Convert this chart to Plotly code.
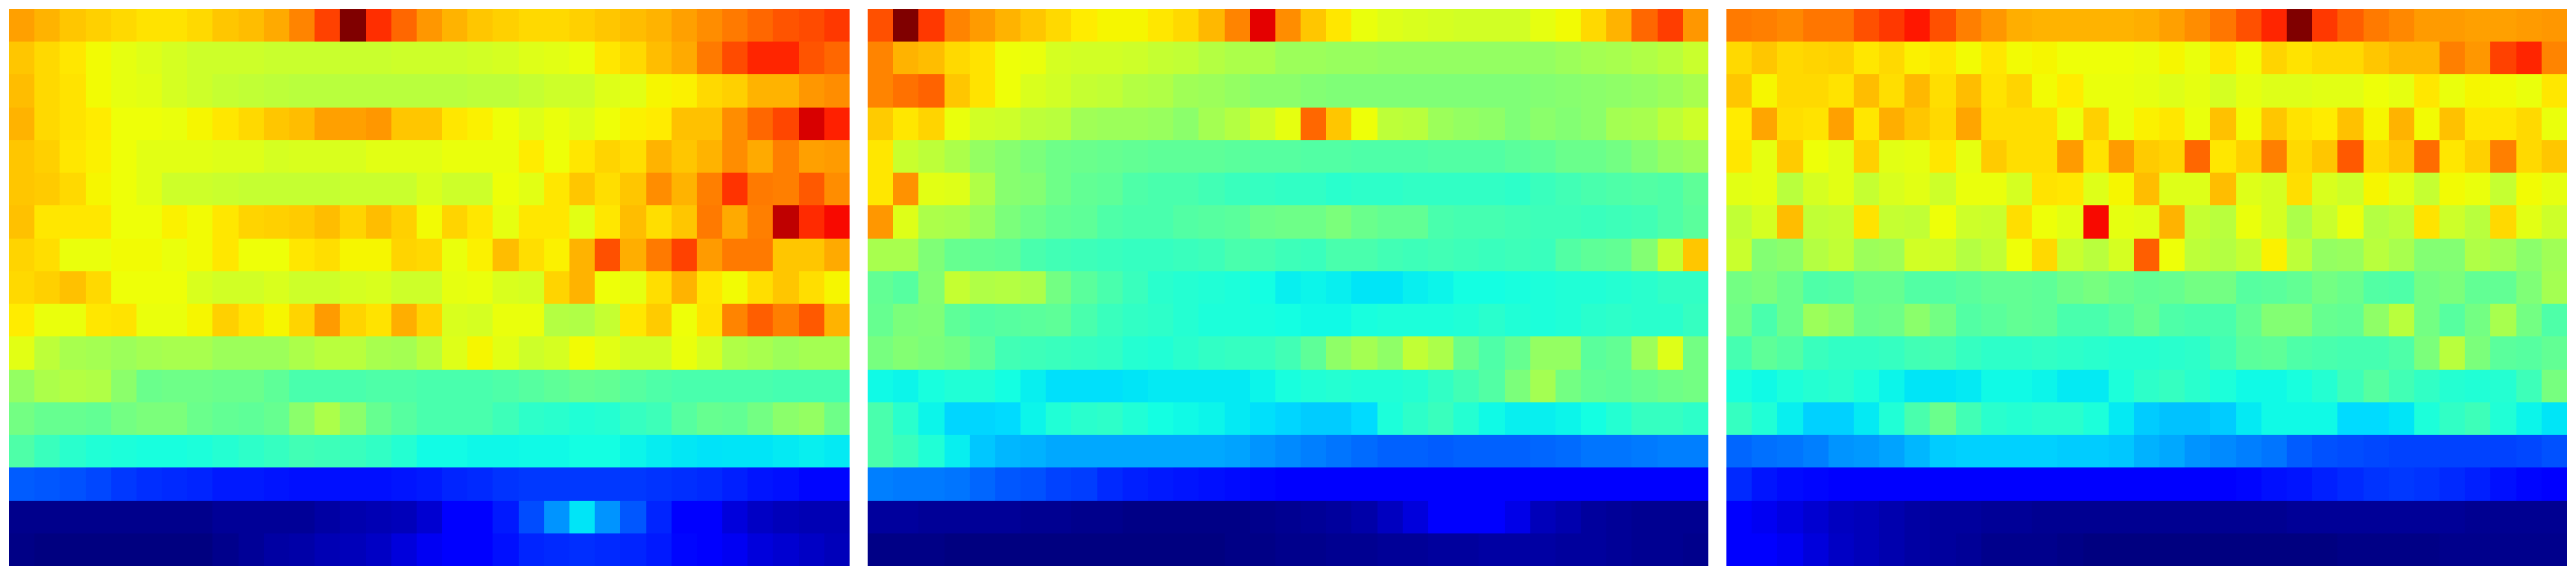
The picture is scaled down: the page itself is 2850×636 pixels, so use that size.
import plotly.graph_objects as go

# Colour values per row (33 columns, 17 rows)
panel_a = [
 [.74,.72,.70,.69,.68,.67,.67,.68,.70,.71,.73,.77,.84,1.0,.86,.80,.75,.72,.70,.69,.68,.68,.69,.70,.71,.72,.74,.76,.78,.80,.82,.83,.85],
 [.70,.68,.665,.645,.63,.62,.61,.60,.60,.60,.595,.595,.595,.595,.595,.60,.60,.60,.605,.61,.62,.625,.635,.665,.68,.71,.73,.78,.83,.87,.87,.82,.80],
 [.71,.68,.67,.645,.63,.625,.61,.60,.59,.585,.58,.575,.575,.575,.575,.575,.575,.575,.58,.58,.59,.60,.60,.62,.625,.65,.655,.68,.69,.72,.72,.75,.76],
 [.72,.68,.67,.66,.64,.64,.635,.65,.665,.68,.70,.71,.74,.74,.75,.70,.70,.665,.655,.64,.62,.635,.62,.64,.655,.66,.705,.705,.76,.80,.835,.93,.875],
 [.70,.69,.665,.655,.64,.625,.625,.625,.62,.62,.61,.615,.615,.615,.625,.625,.625,.635,.635,.635,.66,.64,.665,.685,.675,.72,.70,.72,.76,.73,.775,.74,.745],
 [.70,.695,.68,.65,.64,.625,.60,.60,.595,.59,.59,.59,.59,.595,.595,.595,.615,.60,.60,.64,.625,.665,.70,.675,.70,.76,.72,.775,.855,.78,.775,.815,.76],
 [.705,.665,.665,.665,.64,.64,.655,.645,.665,.685,.69,.695,.71,.685,.71,.69,.645,.685,.665,.63,.665,.665,.625,.665,.71,.675,.70,.78,.73,.775,.95,.865,.90],
 [.685,.675,.635,.635,.645,.645,.635,.645,.665,.64,.64,.665,.675,.65,.65,.685,.68,.635,.655,.71,.675,.655,.72,.825,.725,.78,.84,.745,.78,.78,.70,.70,.73],
 [.68,.69,.705,.68,.64,.64,.64,.615,.605,.605,.615,.60,.60,.61,.615,.60,.60,.63,.635,.615,.61,.685,.72,.64,.63,.675,.72,.665,.645,.675,.70,.675,.65],
 [.66,.635,.635,.665,.67,.635,.635,.65,.69,.67,.65,.685,.745,.685,.67,.725,.685,.615,.61,.635,.635,.57,.565,.59,.665,.695,.64,.67,.77,.81,.775,.815,.72],
 [.625,.58,.555,.55,.54,.55,.555,.555,.54,.54,.54,.56,.575,.575,.555,.55,.575,.62,.65,.625,.60,.61,.645,.625,.605,.605,.635,.61,.565,.555,.54,.55,.55],
 [.53,.56,.57,.565,.52,.48,.485,.485,.48,.48,.465,.44,.44,.44,.445,.445,.44,.44,.44,.445,.455,.465,.475,.47,.455,.445,.44,.44,.44,.44,.435,.435,.435],
 [.49,.475,.475,.47,.49,.50,.50,.48,.47,.465,.475,.52,.56,.52,.475,.455,.44,.44,.44,.425,.405,.40,.39,.395,.415,.425,.455,.475,.47,.49,.52,.53,.485],
 [.445,.42,.40,.39,.385,.38,.38,.385,.395,.405,.415,.43,.425,.42,.41,.395,.372,.372,.368,.368,.37,.37,.375,.375,.365,.358,.352,.348,.35,.35,.355,.36,.355],
 [.215,.21,.205,.195,.18,.17,.165,.16,.15,.15,.145,.14,.14,.14,.14,.145,.15,.16,.165,.175,.18,.18,.18,.18,.18,.175,.17,.165,.155,.145,.14,.13,.13],
 [.01,.01,.01,.01,.01,.01,.01,.01,.02,.02,.02,.02,.03,.04,.045,.05,.07,.11,.115,.15,.20,.27,.35,.27,.21,.16,.12,.11,.08,.06,.05,.045,.045],
 [.005,0,0,0,0,0,0,0,.01,.02,.03,.035,.045,.05,.06,.08,.10,.115,.12,.14,.16,.165,.17,.165,.16,.15,.13,.115,.10,.08,.07,.06,.05],
]

panel_b = [
 [.825,1.0,.85,.77,.745,.72,.70,.68,.66,.65,.65,.665,.68,.715,.77,.92,.76,.70,.665,.635,.62,.615,.61,.605,.605,.605,.63,.645,.68,.72,.80,.845,.75],
 [.77,.72,.71,.68,.67,.64,.635,.61,.605,.605,.60,.59,.585,.57,.56,.56,.54,.54,.535,.535,.53,.53,.53,.53,.53,.53,.53,.54,.55,.555,.565,.575,.595],
 [.77,.79,.805,.70,.67,.64,.615,.605,.59,.585,.57,.565,.545,.54,.53,.52,.52,.51,.505,.505,.505,.505,.505,.505,.505,.505,.51,.515,.52,.525,.53,.54,.555],
 [.695,.665,.685,.635,.605,.60,.58,.575,.545,.54,.54,.535,.52,.55,.57,.60,.63,.80,.70,.64,.58,.575,.54,.53,.525,.505,.52,.51,.52,.55,.555,.58,.60],
 [.665,.595,.58,.56,.53,.515,.50,.485,.48,.475,.47,.465,.465,.465,.46,.455,.455,.45,.45,.445,.445,.445,.45,.45,.45,.46,.465,.48,.48,.49,.51,.53,.54],
 [.665,.755,.625,.62,.565,.515,.51,.485,.47,.465,.445,.44,.44,.43,.42,.415,.41,.41,.40,.405,.405,.41,.41,.41,.41,.405,.42,.43,.44,.445,.45,.445,.465],
 [.75,.62,.56,.555,.535,.50,.485,.47,.465,.445,.44,.44,.45,.455,.46,.48,.485,.485,.50,.48,.47,.47,.44,.435,.435,.43,.425,.425,.42,.425,.43,.445,.46],
 [.555,.555,.505,.475,.47,.465,.44,.43,.425,.42,.415,.415,.42,.425,.44,.435,.425,.42,.44,.44,.43,.425,.43,.425,.42,.425,.42,.45,.465,.47,.51,.59,.70],
 [.47,.455,.51,.59,.565,.57,.56,.49,.46,.44,.42,.40,.395,.39,.385,.375,.36,.365,.36,.35,.35,.36,.365,.375,.375,.38,.385,.39,.39,.395,.40,.41,.41],
 [.475,.50,.505,.465,.45,.455,.46,.465,.44,.42,.41,.405,.395,.385,.385,.38,.375,.37,.37,.38,.385,.385,.385,.39,.40,.39,.385,.39,.40,.405,.40,.40,.415],
 [.495,.51,.50,.49,.465,.43,.425,.42,.415,.41,.395,.39,.40,.41,.415,.415,.43,.465,.525,.55,.525,.585,.56,.48,.445,.475,.53,.53,.46,.47,.54,.62,.49],
 [.37,.365,.38,.39,.39,.375,.36,.345,.345,.345,.35,.355,.355,.355,.355,.365,.38,.39,.395,.39,.39,.395,.41,.43,.45,.50,.55,.49,.47,.465,.475,.485,.49],
 [.44,.40,.365,.335,.335,.34,.365,.39,.40,.405,.39,.375,.37,.365,.355,.345,.335,.325,.325,.34,.385,.405,.42,.395,.37,.36,.36,.365,.375,.395,.415,.415,.405],
 [.44,.42,.39,.36,.32,.305,.30,.29,.29,.29,.29,.29,.29,.29,.285,.27,.26,.25,.24,.23,.22,.22,.215,.22,.22,.22,.225,.23,.24,.24,.245,.25,.25],
 [.25,.245,.245,.24,.225,.21,.205,.19,.185,.165,.155,.15,.145,.14,.135,.13,.125,.125,.125,.125,.125,.125,.125,.125,.125,.125,.125,.125,.125,.125,.125,.125,.125],
 [.025,.025,.02,.02,.02,.02,.015,.015,.01,.01,.005,.005,.005,.005,.005,.01,.015,.02,.025,.035,.055,.08,.12,.125,.125,.09,.05,.04,.025,.02,.015,.015,.015],
 [.005,.005,.005,0,0,0,0,0,0,0,0,0,0,0,.005,.005,.01,.01,.015,.015,.02,.02,.025,.025,.03,.03,.03,.025,.025,.02,.015,.015,.01],
]

panel_c = [
 [.78,.775,.765,.785,.785,.825,.85,.885,.825,.775,.75,.725,.72,.72,.72,.72,.725,.74,.76,.785,.825,.87,1.0,.85,.81,.78,.765,.745,.745,.74,.74,.745,.75],
 [.68,.70,.68,.685,.69,.665,.68,.655,.665,.645,.665,.645,.65,.64,.64,.64,.635,.65,.635,.665,.645,.685,.67,.68,.68,.70,.715,.715,.775,.75,.84,.87,.77],
 [.70,.65,.68,.68,.67,.71,.675,.715,.675,.71,.67,.685,.645,.66,.635,.635,.63,.62,.63,.61,.63,.62,.62,.625,.625,.64,.63,.665,.635,.65,.645,.635,.665],
 [.66,.735,.675,.67,.74,.665,.725,.70,.68,.735,.675,.675,.675,.635,.69,.635,.655,.665,.635,.705,.645,.70,.67,.66,.705,.65,.72,.645,.705,.665,.665,.68,.635],
 [.665,.63,.695,.64,.625,.69,.625,.63,.665,.63,.695,.675,.675,.745,.67,.745,.695,.685,.80,.665,.69,.775,.68,.70,.815,.68,.70,.795,.665,.69,.775,.68,.70],
 [.625,.63,.575,.61,.625,.59,.615,.625,.60,.635,.635,.61,.67,.665,.62,.65,.71,.62,.62,.71,.62,.61,.675,.615,.60,.65,.625,.59,.645,.635,.59,.645,.63],
 [.585,.61,.71,.585,.59,.67,.59,.585,.64,.60,.595,.675,.64,.625,.90,.63,.625,.72,.59,.575,.635,.61,.56,.595,.635,.57,.58,.67,.60,.575,.68,.625,.60],
 [.595,.51,.52,.57,.585,.54,.545,.605,.60,.57,.585,.64,.68,.595,.575,.61,.81,.64,.58,.57,.59,.655,.58,.53,.535,.575,.555,.51,.51,.565,.55,.52,.545],
 [.49,.50,.48,.445,.45,.475,.475,.45,.45,.46,.47,.47,.465,.485,.495,.48,.47,.475,.49,.49,.455,.46,.47,.49,.48,.45,.445,.49,.50,.47,.47,.505,.55],
 [.485,.44,.48,.54,.525,.48,.485,.52,.49,.45,.46,.47,.465,.44,.44,.455,.475,.445,.44,.44,.47,.51,.51,.475,.47,.525,.575,.49,.455,.49,.555,.49,.445],
 [.435,.465,.45,.42,.41,.41,.415,.43,.435,.415,.405,.405,.41,.405,.40,.395,.395,.40,.405,.43,.46,.465,.445,.44,.435,.435,.445,.50,.575,.50,.46,.455,.47],
 [.38,.37,.385,.395,.40,.385,.365,.35,.35,.355,.37,.37,.365,.355,.355,.385,.405,.415,.40,.385,.37,.37,.38,.395,.425,.455,.43,.41,.395,.39,.395,.425,.495],
 [.415,.39,.36,.33,.33,.355,.39,.44,.48,.43,.40,.395,.40,.40,.385,.355,.325,.315,.315,.325,.355,.37,.37,.37,.34,.34,.35,.385,.41,.425,.39,.365,.35],
 [.225,.235,.24,.25,.27,.275,.285,.305,.325,.33,.33,.33,.33,.325,.325,.32,.30,.29,.27,.26,.25,.24,.215,.205,.20,.195,.19,.19,.19,.19,.19,.195,.205],
 [.165,.145,.135,.13,.125,.125,.125,.125,.125,.125,.125,.125,.125,.125,.125,.125,.125,.125,.125,.125,.13,.14,.145,.155,.165,.175,.18,.175,.165,.155,.14,.13,.125],
 [.115,.10,.085,.07,.055,.05,.04,.03,.025,.025,.02,.02,.015,.015,.015,.015,.015,.015,.015,.015,.015,.015,.02,.02,.02,.02,.02,.02,.02,.015,.015,.015,.015],
 [.12,.115,.10,.08,.06,.05,.04,.03,.025,.02,.01,.01,.01,.005,0,0,0,0,0,0,0,0,0,0,.005,.005,.005,.005,.01,.01,.01,.01,.01],
]

panels = [panel_a, panel_b, panel_c]
for p in panels:
    assert len(p) == 17, len(p)
    for i, r in enumerate(p):
        assert len(r) == 33, (i, len(r))

# matplotlib-style jet
jet = [
 [0, "rgb(0,0,128)"], [.11, "rgb(0,0,255)"], [.125, "rgb(0,0,255)"],
 [.34, "rgb(0,219,255)"], [.35, "rgb(0,229,247)"], [.375, "rgb(20,255,226)"],
 [.64, "rgb(238,255,8)"], [.65, "rgb(246,246,0)"], [.66, "rgb(255,236,0)"],
 [.89, "rgb(255,18,0)"], [.91, "rgb(241,0,0)"], [1, "rgb(128,0,0)"],
]

W, H = 2850, 636
lefts = [10, 960, 1910]
panel_w, top, bottom = 930, 10, 626

fig = go.Figure()
for i, (p, l) in enumerate(zip(panels, lefts)):
    n = "" if i == 0 else str(i + 1)
    fig.add_trace(go.Heatmap(z=p, colorscale=jet, zmin=0, zmax=1, showscale=False,
                             xaxis="x" + n, yaxis="y" + n))
    fig.layout["xaxis" + n] = dict(domain=[l / W, (l + panel_w) / W], visible=False,
                                   range=[-.5, 32.5], fixedrange=True)
    fig.layout["yaxis" + n] = dict(domain=[1 - bottom / H, 1 - top / H], visible=False,
                                   range=[16.5, -.5], fixedrange=True)

fig.update_layout(width=W, height=H, margin=dict(l=0, r=0, t=0, b=0),
                  paper_bgcolor="white", plot_bgcolor="white")
fig.write_html("out.html", config={"displayModeBar": False},
               post_script="document.body.style.margin='0';document.body.style.overflow='hidden';")
